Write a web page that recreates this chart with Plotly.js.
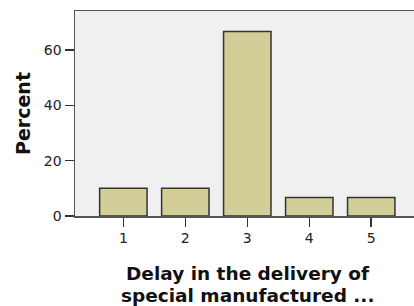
<!DOCTYPE html>
<html>
<head>
<meta charset="utf-8">
<script src="https://cdn.plot.ly/plotly-3.0.1.min.js"></script>
<style>html,body{margin:0;padding:0;background:#fff;overflow:hidden;}</style>
</head>
<body>
<div id="chart" style="width:414px;height:306px;"></div>
<script>
var categories = ["1", "2", "3", "4", "5"];
var percentValues = [10.0, 10.0, 66.7, 6.7, 6.7];
var yTickValues = [0, 20, 40, 60];
var xTitleLines = ["Delay in the delivery of", "special manufactured ..."];
var yTitleText = "Percent";

var trace = {
  type: "bar",
  x: categories,
  y: percentValues,
  width: 0.765,
  marker: { color: "#D3CE97", line: { color: "#333333", width: 1.5 } },
  hoverinfo: "none"
};

var titleFont = { size: 19, color: "#111111", family: "DejaVu Sans", weight: "bold" };
var xTitleFont = { size: 18.5, color: "#111111", family: "DejaVu Sans", weight: "bold" };

var layout = {
  width: 414,
  height: 306,
  margin: { l: 75, r: 0, t: 11, b: 90 },
  paper_bgcolor: "#ffffff",
  plot_bgcolor: "#F0F0F0",
  showlegend: false,
  font: { family: "DejaVu Sans", color: "#222222" },
  xaxis: {
    type: "category",
    range: [-0.78, 4.69],
    showline: true,
    linecolor: "#555555",
    linewidth: 1.5,
    mirror: true,
    ticks: "outside",
    ticklen: 9,
    tickwidth: 1.5,
    tickcolor: "#333333",
    showgrid: false,
    zeroline: false,
    tickfont: { size: 14, color: "#222222", family: "DejaVu Sans" }
  },
  yaxis: {
    range: [0, 74.1],
    tickvals: yTickValues,
    ticktext: yTickValues.map(String),
    showline: true,
    linecolor: "#555555",
    linewidth: 1.5,
    ticks: "outside",
    ticklen: 9,
    tickwidth: 1.5,
    tickcolor: "#333333",
    showgrid: false,
    zeroline: false,
    tickfont: { size: 14, color: "#222222", family: "DejaVu Sans" },
    title: { text: yTitleText, font: titleFont, standoff: 8 }
  },
  annotations: [
    { text: xTitleLines[0], xref: "paper", yref: "paper", x: 0.51, y: -0.285, yanchor: "middle",
      xanchor: "center", showarrow: false, font: xTitleFont, height: 21.5, valign: "middle", borderpad: 0 },
    { text: xTitleLines[1], xref: "paper", yref: "paper", x: 0.51, y: -0.39, yanchor: "middle",
      xanchor: "center", showarrow: false, font: xTitleFont, height: 21.5, valign: "middle", borderpad: 0 }
  ]
};

Plotly.newPlot("chart", [trace], layout, { staticPlot: true, displayModeBar: false });
</script>
</body>
</html>
